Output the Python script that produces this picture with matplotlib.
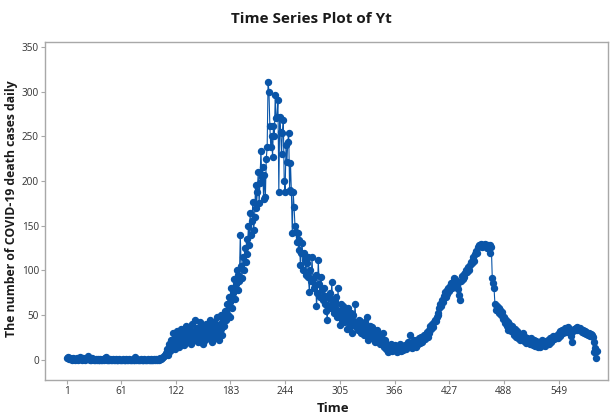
import matplotlib.pyplot as plt
import numpy as np

# daily death counts
pre_wave = [2, 3, 1, 2, 1, 0, 1, 2, 1, 0, 1, 2, 0, 1, 3, 1, 0, 1, 2, 1,
            0, 1, 2, 4, 1, 0, 1, 0, 2, 1, 0, 0, 1, 0, 1, 0, 0, 1, 0, 0,
            1, 0, 2, 3, 0, 1, 0, 0, 1, 0, 0, 1, 0, 0, 1, 0, 0, 0, 1, 0,
            0, 0, 1, 0, 0, 0, 1, 0, 0, 1, 0, 0, 0, 1, 0, 0, 3, 0, 1, 0,
            0, 0, 1, 0, 0, 0, 1, 0, 0, 0, 1, 0, 0, 1, 0, 0, 0, 1, 0, 1,
            0, 1, 0, 1, 2, 1, 2, 3]
early_rise = [4, 6, 8, 12, 5, 15, 18, 10, 22, 14, 30, 20, 12, 25, 18, 32, 22,
              15, 28, 35, 20, 30, 17, 26, 38, 24, 30, 20, 35, 28, 18, 40, 25,
              32, 22, 45, 28, 36, 20, 30, 42, 25, 33, 18, 38, 28, 22, 40, 30,
              25, 35, 45, 28, 20, 38, 32, 42, 25, 35, 48, 30, 22, 40, 35, 50,
              28, 45]
first_climb = [38, 55, 45, 62, 50, 70, 48, 65, 80, 58, 75, 90, 68, 85, 100,
               78, 95, 88, 140, 105, 92, 115, 100, 125, 110, 135, 118, 150,
               128, 164, 140, 155, 177, 145, 160, 195, 170, 188, 210, 175,
               198, 234, 205, 216, 180, 207, 182]
first_peak = [225, 238, 311, 300, 261, 238, 250, 227, 262, 250, 296, 270, 271,
              291, 188, 272, 255, 230, 254, 268, 200, 188, 240, 221, 244, 254,
              190, 220, 188, 142, 188, 171, 150]
first_decline = [143, 132, 142, 123, 134, 106, 120, 131, 100, 120, 112, 95,
                 108, 115, 93, 76, 100, 88, 115, 90, 80, 84, 95, 60, 75, 112,
                 85, 70, 93, 78, 67, 80, 62, 72, 55, 45, 70, 60, 75, 58, 87,
                 65, 52, 67, 58,
                 70, 48, 80, 55, 39, 62, 50, 45, 60, 42, 55, 48, 35, 58, 45,
                 40, 52, 38, 30, 50, 42, 63, 40, 36, 34, 45, 38, 43, 30, 40,
                 35, 28, 42, 32, 48, 22, 35, 28, 38, 30, 37, 25, 32, 20, 30,
                 25, 33, 22, 28, 18, 25, 20, 30, 15, 22, 12, 18, 14, 9, 16,
                 12, 18, 10, 15, 13]
trough = [17, 11, 14, 9, 15, 12, 18, 10, 14, 16, 11, 13, 17, 12, 15, 20, 14,
          28, 16, 13, 18, 15, 22, 17, 14, 20, 18, 24, 19, 22, 26, 20, 25, 28,
          23]
second_rise = [27, 31, 26, 30, 33, 38, 35, 40, 37, 42, 45, 43, 48, 52, 50, 58,
               63, 60, 67, 65, 72, 76, 70, 78, 74, 80, 77, 83, 86, 80, 87, 92,
               85, 90, 88, 84, 79, 73, 67, 88, 94, 90, 96, 93, 97, 100, 98,
               104, 101, 106, 110, 108, 112, 115, 111, 118, 122, 120, 126, 129]
second_peak = [127, 130, 128, 126, 129, 127, 130, 128, 125, 129, 127, 128,
               120, 126]
second_decline = [92, 86, 80, 62, 56, 60, 55, 58, 52, 56, 50, 54, 46, 48, 41,
                  45, 38, 42, 34, 40, 36, 32, 38, 34, 28, 35, 30, 26, 32, 25,
                  29, 22, 27, 24, 30, 21, 26, 23, 19, 25, 20, 22, 18, 24, 20,
                  17, 22, 19, 16, 21, 18, 15, 20, 15, 19, 17, 22, 18, 20, 16,
                  21, 19, 22, 18, 24]
tail = [20, 25, 22, 27, 23, 26, 24, 28, 25, 30, 27, 32, 29, 34, 30, 33, 36,
        31, 35, 33, 37, 34, 30, 27, 20, 32, 35, 33, 36, 34, 37, 35, 33, 36,
        34, 31, 33, 30, 32, 29, 31, 30, 28, 30, 27, 29, 28, 26, 9, 20, 13, 2,
        10]

yt = np.array(pre_wave + early_rise + first_climb + first_peak + first_decline
              + trough + second_rise + second_peak + second_decline + tail)
time = np.arange(1, len(yt) + 1)

x_ticks = [1, 61, 122, 183, 244, 305, 366, 427, 488, 549]
y_ticks = [0, 50, 100, 150, 200, 250, 300, 350]

blue = "#0a55a8"
grey = "#a8a8a8"

plt.rcParams["font.family"] = ["Open Sans", "DejaVu Sans"]

fig = plt.figure(figsize=(6.11, 4.18), dpi=100)
ax = fig.add_axes([0.074, 0.091, 0.921, 0.809])

ax.plot(time, yt, color=blue, linewidth=0.8, marker="o", markersize=4.3,
        markerfacecolor=blue, markeredgecolor=blue)

ax.set_xlim(-23.5, 604)
ax.set_ylim(-22.4, 355.6)
ax.set_xticks(x_ticks)
ax.set_yticks(y_ticks)
ax.tick_params(direction="out", length=3, width=0.8, color=grey,
               labelsize=7.2, labelcolor="#333333", pad=1.5)
for spine in ax.spines.values():
    spine.set_color(grey)
    spine.set_linewidth(1.0)

fig.text(0.51, 0.955, "Time Series Plot of Yt", ha="center", va="center",
         fontsize=11, fontweight="bold", color="#1a1a1a")
# axis titles placed by hand so they stay inside the canvas
fig.text(0.019, 0.5, "The number of COVID-19 death cases daily",
         rotation=90, ha="center", va="center", fontsize=8.8,
         fontweight="bold", color="#1a1a1a")
fig.text(0.545, 0.022, "Time", ha="center", va="center", fontsize=9.5,
         fontweight="bold", color="#1a1a1a")

fig.savefig("out.png", dpi=100)
plt.close(fig)
